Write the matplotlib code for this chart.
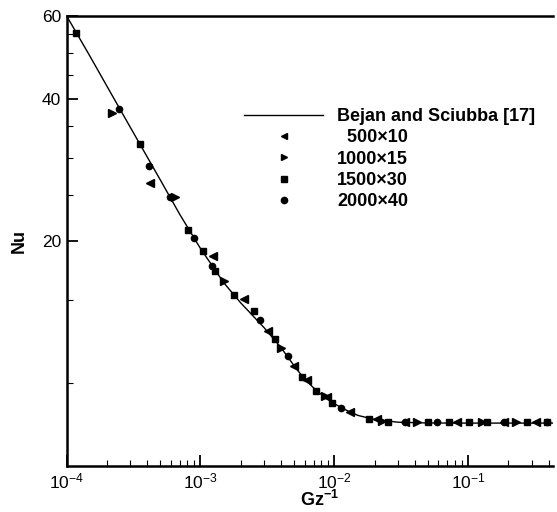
import matplotlib
matplotlib.use('Agg')
import matplotlib.pyplot as plt
from matplotlib.ticker import FixedLocator, NullFormatter, FixedFormatter
from matplotlib.lines import Line2D

plt.rcParams['font.family'] = ['Liberation Sans', 'DejaVu Sans']
plt.rcParams['mathtext.fontset'] = 'custom'
plt.rcParams['mathtext.rm'] = 'Liberation Sans'
plt.rcParams['mathtext.bf'] = 'Liberation Sans:bold'
plt.rcParams['axes.unicode_minus'] = False

# Bejan and Sciubba correlation
curve_x = [1e-4, 1.5e-4, 2e-4, 3e-4, 5e-4, 7e-4, 1e-3, 1.5e-3, 2e-3, 3e-3, 4e-3,
           5e-3, 6e-3, 7.5e-3, 1e-2, 1.25e-2, 1.5e-2, 2e-2, 3e-2, 5e-2, 0.1, 0.43]
curve_nu = [60.0, 49.2, 42.6, 34.8, 27.0, 22.8, 19.3, 16.3, 14.8, 13.1, 11.9,
            10.9, 10.2, 9.6, 9.05, 8.75, 8.55, 8.38, 8.27, 8.24, 8.235, 8.235]

# 500x10 grid
g500_x = [4.21e-4, 1.25e-3, 2.13e-3, 3.2e-3, 5.0e-3, 6.24e-3, 8.8e-3, 0.01315,
          0.0208, 0.0339, 0.0824, 0.186, 0.323]
g500_nu = [26.6, 18.6, 15.1, 12.9, 10.9, 10.16, 9.34, 8.70,
           8.40, 8.26, 8.26, 8.26, 8.26]

# 1000x15 grid
g1000_x = [2.18e-4, 6.48e-4, 1.49e-3, 4.0e-3, 8.55e-3, 0.0227, 0.0414, 0.1268, 0.2286]
g1000_nu = [37.3, 24.75, 16.5, 11.9, 9.40, 8.33, 8.26, 8.26, 8.26]

# 1500x30 grid
g1500_x = [1.18e-4, 3.54e-4, 8.12e-4, 1.04e-3, 1.29e-3, 1.77e-3, 2.5e-3, 3.6e-3,
           5.73e-3, 7.33e-3, 9.69e-3, 0.01824, 0.0254, 0.0501, 0.0714, 0.1007,
           0.138, 0.275, 0.388]
g1500_nu = [55.1, 32.1, 21.1, 19.05, 17.3, 15.4, 14.2, 12.4,
            10.32, 9.64, 9.09, 8.40, 8.29, 8.26, 8.26, 8.26,
            8.26, 8.26, 8.26]

# 2000x40 grid
g2000_x = [2.47e-4, 4.14e-4, 5.94e-4, 9.02e-4, 1.23e-3, 2.8e-3, 4.5e-3, 0.01119,
           0.0339, 0.0585, 0.186, 0.388]
g2000_nu = [38.0, 28.9, 24.75, 20.27, 17.7, 13.6, 11.4, 8.85,
            8.26, 8.26, 8.26, 8.26]

y_major = [20, 40, 60]
y_minor = [10, 15, 25, 30, 35, 45, 50, 55]


def main():
    fig = plt.figure(figsize=(5.57, 5.12), dpi=100)
    ax = fig.add_axes([0.1194, 0.0898, 0.8734, 0.8795])

    ax.plot(curve_x, curve_nu, color='black', lw=1.0)
    ax.plot(g500_x, g500_nu, ls='none', marker='<', ms=5.5, color='black')
    ax.plot(g1000_x, g1000_nu, ls='none', marker='>', ms=5.5, color='black')
    ax.plot(g1500_x, g1500_nu, ls='none', marker='s', ms=5, color='black')
    ax.plot(g2000_x, g2000_nu, ls='none', marker='o', ms=4.5, color='black')

    ax.set_xscale('log')
    ax.set_yscale('log')
    ax.set_xlim(1e-4, 0.43)
    ax.set_ylim(6.68, 60)

    ax.yaxis.set_major_locator(FixedLocator(y_major))
    ax.yaxis.set_major_formatter(FixedFormatter([str(v) for v in y_major]))
    ax.yaxis.set_minor_locator(FixedLocator(y_minor))
    ax.yaxis.set_minor_formatter(NullFormatter())

    for side in ['left', 'bottom', 'top']:
        ax.spines[side].set_linewidth(1.8)
    ax.spines['right'].set_visible(False)
    ax.tick_params(which='major', direction='in', length=8, width=1.3,
                   labelsize=12.5, top=False, right=False, pad=4)
    ax.tick_params(which='minor', direction='in', length=4, width=0.8,
                   top=False, right=False)

    ax.set_xlabel(r'$\mathbf{Gz}^{\mathbf{-1}}$', fontsize=13, labelpad=0)
    ax.xaxis.set_label_coords(0.52, -0.054)
    ax.set_ylabel('Nu', fontsize=13, fontweight='bold', labelpad=10)

    handles = [
        Line2D([], [], color='black', lw=1.0),
        Line2D([], [], ls='none', marker='<', ms=5, color='black'),
        Line2D([], [], ls='none', marker='>', ms=5, color='black'),
        Line2D([], [], ls='none', marker='s', ms=5, color='black'),
        Line2D([], [], ls='none', marker='o', ms=4.5, color='black'),
    ]
    labels = ['Bejan and Sciubba [17]', '  500\u00d710', '1000\u00d715',
              '1500\u00d730', '2000\u00d740']
    ax.legend(handles, labels, loc='upper left', frameon=False,
              bbox_to_anchor=(244 / 557, 1 - 108 / 512),
              bbox_transform=fig.transFigure, borderpad=0, borderaxespad=0,
              handlelength=4.4, handletextpad=0.75, labelspacing=0.24,
              prop={'size': 13, 'weight': 'bold'})

    fig.savefig('out.png', dpi=100)


if __name__ == '__main__':
    main()
